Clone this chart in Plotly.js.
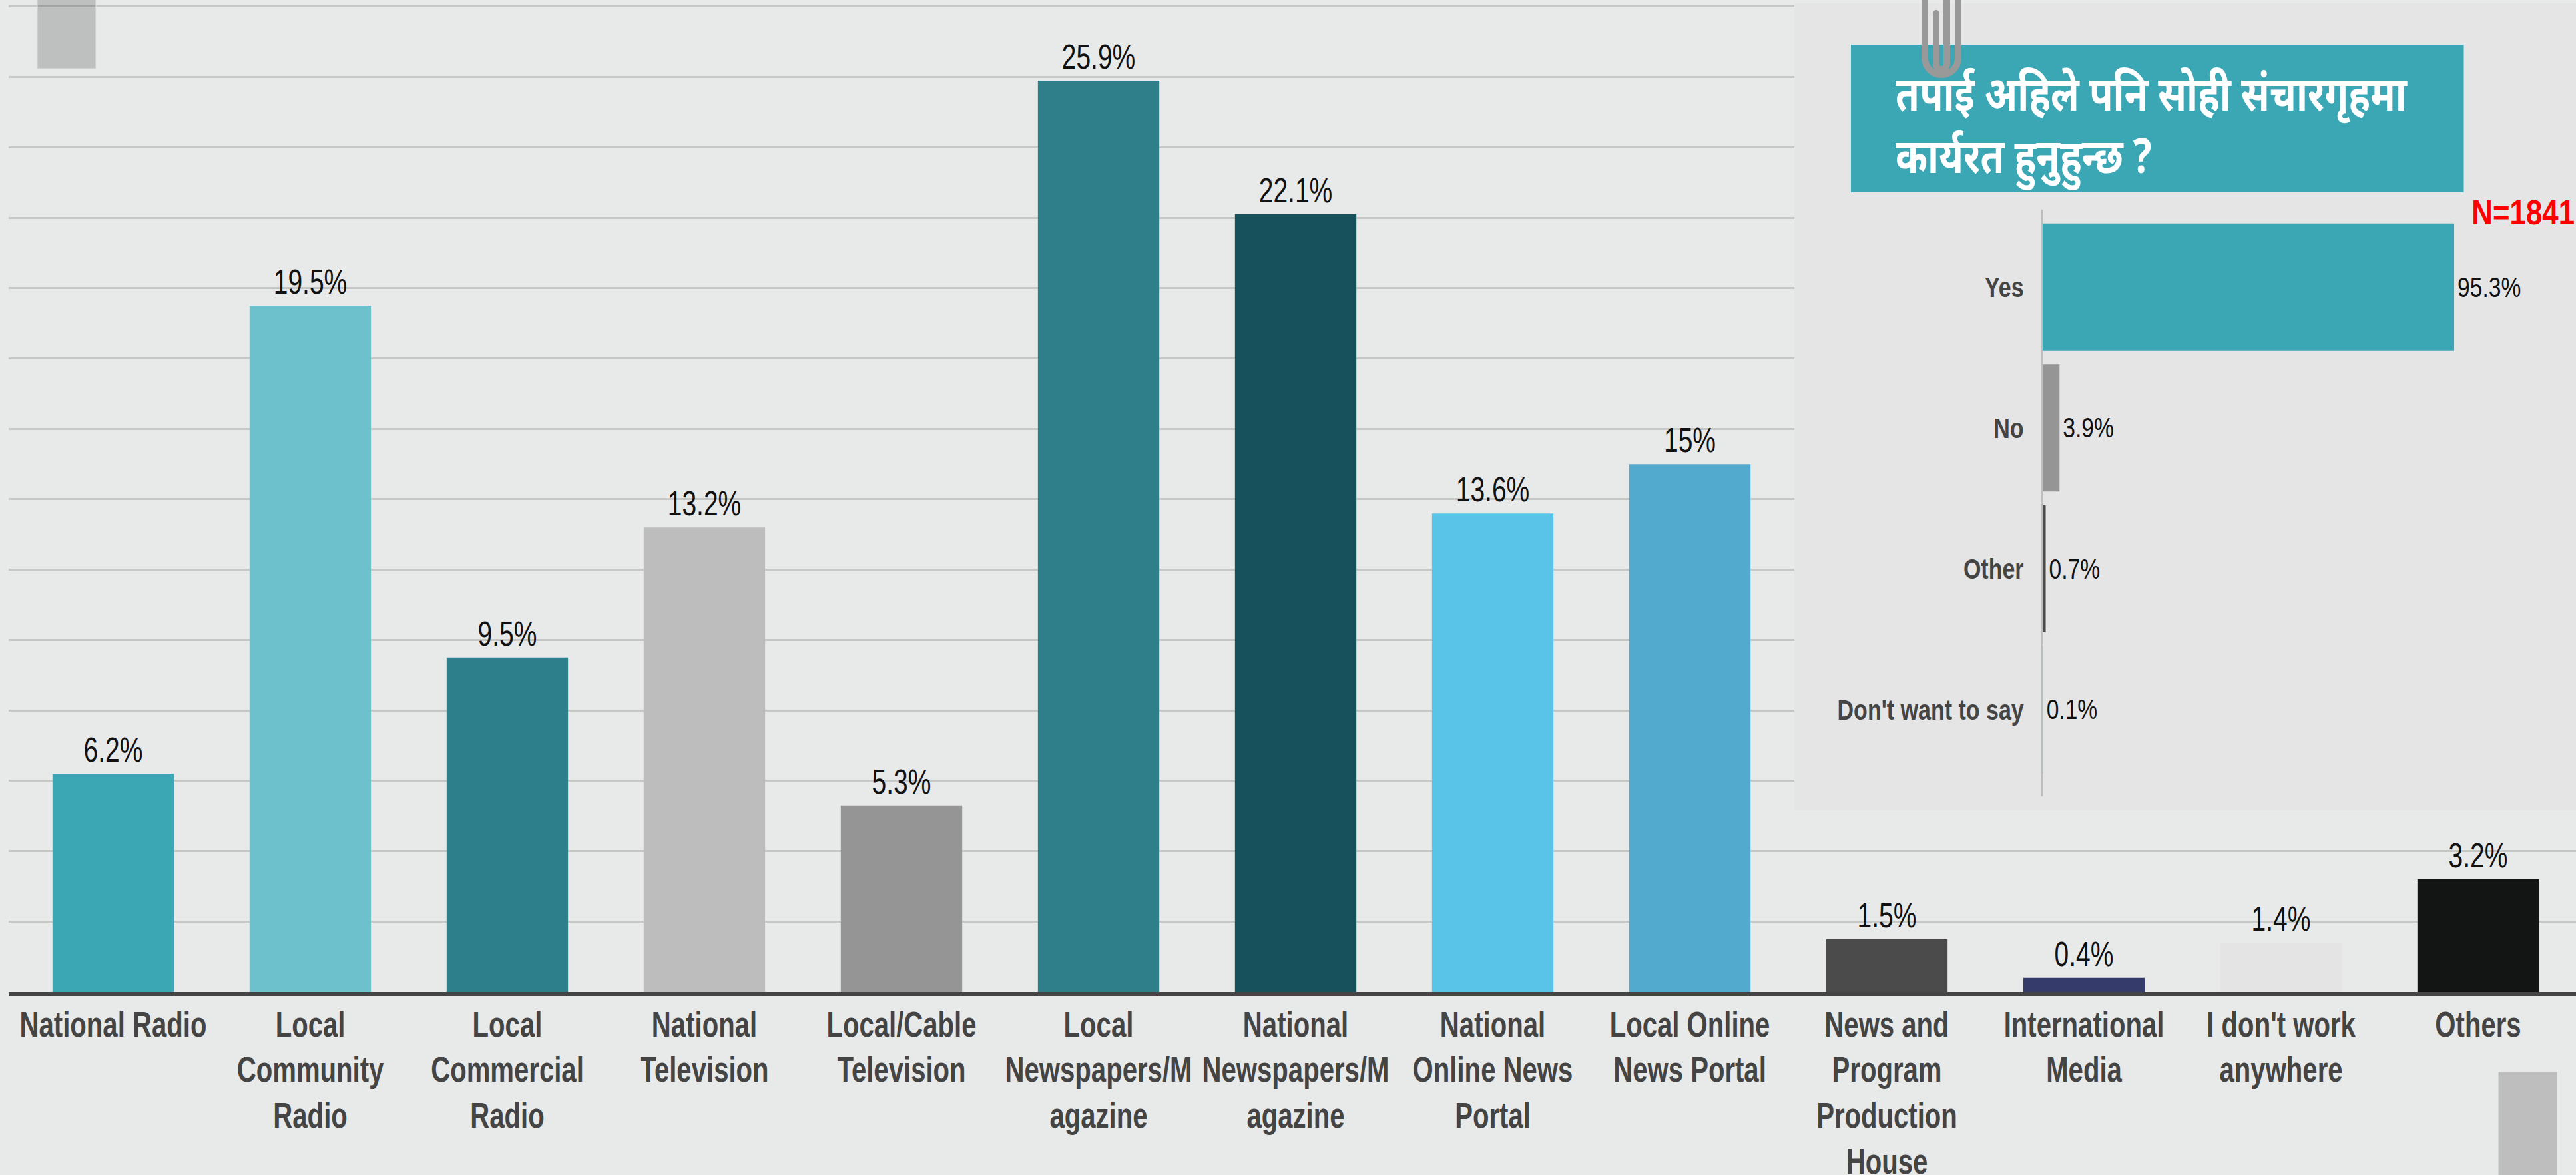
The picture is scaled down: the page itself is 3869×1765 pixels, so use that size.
<!DOCTYPE html>
<html><head><meta charset="utf-8">
<script src="https://cdn.plot.ly/plotly-3.0.1.min.js"></script>
<style>html,body{margin:0;padding:0;background:#e8eae9}</style></head>
<body><div id="chart" style="width:3869px;height:1765px"></div>
<script>
const categories = ["National Radio","Local<br>Community<br>Radio","Local<br>Commercial<br>Radio","National<br>Television","Local/Cable<br>Television","Local<br>Newspapers/M<br>agazine","National<br>Newspapers/M<br>agazine","National<br>Online News<br>Portal","Local Online<br>News Portal","News and<br>Program<br>Production<br>House","International<br>Media","I don't work<br>anywhere","Others"];
const values = [6.2,19.5,9.5,13.2,5.3,25.9,22.1,13.6,15,1.5,0.4,1.4,3.2];
const valueLabels = ["6.2%","19.5%","9.5%","13.2%","5.3%","25.9%","22.1%","13.6%","15%","1.5%","0.4%","1.4%","3.2%"];
const barColors = ["#3ba7b5","#6cc1cc","#2d7f8b","#bdbdbd","#959595","#2e7f8a","#17515b","#59c4e8","#53aacf","#4b4b4b","#353c6b","#e4e4e4","#131514"];
const insetCategories = ["Yes","No","Other","Don't want to say"];
const insetValues = [95.3,3.9,0.7,0.1];
const insetLabels = ["95.3%","3.9%","0.7%","0.1%"];
const insetColors = ["#3ba7b5","#959595","#4b4b4b","#b8c4c8"];
const insetTitle = "तपाई अहिले पनि सोही संचारगृहमा<br>कार्यरत हुनुहुन्छ ?";

const W=3869,H=1765;
const px=v=>v/W, py=v=>1-v/H;
const FONT='"Liberation Sans",Arial,sans-serif';
const dx=(p)=>(p-170)/296, dy=(p)=>(1490-p)/(1480/28);
const rect=(x0,y0,x1,y1,fill,extra)=>Object.assign({type:'rect',xref:'paper',yref:'paper',x0:px(x0),x1:px(x1),y0:py(y1),y1:py(y0),fillcolor:fill,line:{width:0},layer:'above'},extra||{});
const clipPath=(d,w)=>({type:'path',xref:'paper',yref:'paper',path:d,line:{color:'#999999',width:w},fillcolor:'rgba(0,0,0,0)',layer:'above'});
function uPath(xl,xr,yTopL,yTopR,yBend){
  const a=(x,y)=>px(x)+','+py(y);
  const r=(xr-xl)/2, k=0.5523*r, xm=(xl+xr)/2, yb=yBend+r;
  return 'M'+a(xl,yTopL)+' L'+a(xl,yBend)+' C'+a(xl,yBend+k)+' '+a(xm-k,yb)+' '+a(xm,yb)+' C'+a(xm+k,yb)+' '+a(xr,yBend+k)+' '+a(xr,yBend)+' L'+a(xr,yTopR);
}
const traces=[
 {type:'bar',x:categories,y:values,text:valueLabels,textposition:'outside',constraintext:'none',cliponaxis:false,width:0.616,
  marker:{color:barColors,line:{width:0}},textfont:{family:FONT,size:52,color:'#111'},xaxis:'x',yaxis:'y',hoverinfo:'skip'},
 {type:'bar',orientation:'h',y:insetCategories,x:insetValues,text:insetLabels,textposition:'outside',constraintext:'none',cliponaxis:false,width:0.903,
  marker:{color:insetColors,line:{width:0}},textfont:{family:FONT,size:42,color:'#111'},xaxis:'x2',yaxis:'y2',hoverinfo:'skip'}
];
const layout={
 width:W,height:H,margin:{l:0,r:0,t:0,b:0},paper_bgcolor:'#e8eae9',plot_bgcolor:'rgba(0,0,0,0)',showlegend:false,
 xaxis:{domain:[px(13),1],range:[dx(13),dx(3869)],type:'category',categoryorder:'array',categoryarray:categories,tickmode:'array',tickvals:categories,ticktext:categories,
   showline:true,linecolor:'#444444',linewidth:6,showgrid:false,ticks:'',tickangle:0,ticklabelstandoff:-3,tickfont:{family:FONT,size:53,color:'#444444',weight:700},automargin:false},
 yaxis:{domain:[py(1490),py(10-0.05*1480/28)],range:[0,28.05],tickmode:'linear',dtick:2,tick0:0,showgrid:true,gridcolor:'#c6c8c6',gridwidth:3,zeroline:false,showticklabels:false,ticks:'',automargin:false},
 xaxis2:{domain:[px(3068),1],range:[0,(3869-3068)/6.485],anchor:'y2',showgrid:false,zeroline:false,showticklabels:false,ticks:'',automargin:false},
 yaxis2:{domain:[py(1196),py(315)],range:[3.615,-0.55],anchor:'x2',type:'category',categoryorder:'array',categoryarray:insetCategories,showline:true,linecolor:'#bdbdbd',linewidth:2,showgrid:false,ticks:'',ticklabelstandoff:18,tickfont:{family:FONT,size:42,color:'#444444',weight:700},automargin:false},
 shapes:[
  {type:'rect',xref:'paper',yref:'paper',x0:px(2695),x1:1,y0:py(1217),y1:py(5),fillcolor:'#e5e5e5',line:{width:0},layer:'below'},
  {type:'rect',xref:'x',yref:'y',x0:dx(2695),x1:dx(3869),y0:dy(1217),y1:28.2,fillcolor:'#e5e5e5',line:{width:0},layer:'between'},
  rect(2780,67,3700.5,289,'#3ba7b5'),
  rect(56,-2,144,103,'rgba(0,0,0,0.18)',{line:{width:1,color:'#e0e0e0'}}),
  rect(3752.5,1610,3840.7,1770,'#bebebe'),
  clipPath(uPath(2891,2941,-5,-5,87),10),
  clipPath(uPath(2908,2924,20,-5,96),10),
  {type:'circle',xref:'paper',yref:'paper',x0:px(2903),x1:px(2913),y0:py(25),y1:py(15),fillcolor:'#999999',line:{width:0},layer:'above'}
 ],
 annotations:[
  {xref:'paper',yref:'paper',x:px(2845),y:py(188),xanchor:'left',yanchor:'middle',align:'left',showarrow:false,text:insetTitle,
   font:{family:'"Noto Sans","Liberation Sans",sans-serif',size:72,color:'#ffffff',weight:700}},
  {xref:'paper',yref:'paper',x:px(3869),y:py(320),xanchor:'right',yanchor:'middle',showarrow:false,text:'N=1841',
   font:{family:FONT,size:51,color:'#ff0000',weight:700}}
 ]
};
// Horizontal condensing of labels: the reference uses a narrow typeface that is not installed.
function squeeze(sel,s,anchor,shiftX,shiftY){
  document.querySelectorAll(sel).forEach(t=>{
    const b=t.getBBox();
    const a=anchor==='l'?b.x:anchor==='r'?b.x+b.width:b.x+b.width/2;
    const old=t.getAttribute('transform')||'';
    t.setAttribute('transform',`${old} translate(${(shiftX||0)+a},${shiftY||0}) scale(${s},1) translate(${-a},0)`);
  });
}
Plotly.newPlot('chart',traces,layout,{staticPlot:true,displayModeBar:false}).then(()=>{
  squeeze('.xtick text',0.757,'c',0,0);
  squeeze('.y2tick text',0.81,'r',0,0);
  squeeze('.xy .bartext',0.75,'c',0,-4);
  squeeze('.x2y2 .bartext',0.8,'l',2,0);
  const ann=document.querySelectorAll('.annotation-text');
  if(ann[0]) ann[0].classList.add('a-title');
  if(ann[1]) ann[1].classList.add('a-n');
  squeeze('.a-title',0.805,'l',0,0);
  squeeze('.a-n',0.86,'r',0,0);
});
</script></body></html>
